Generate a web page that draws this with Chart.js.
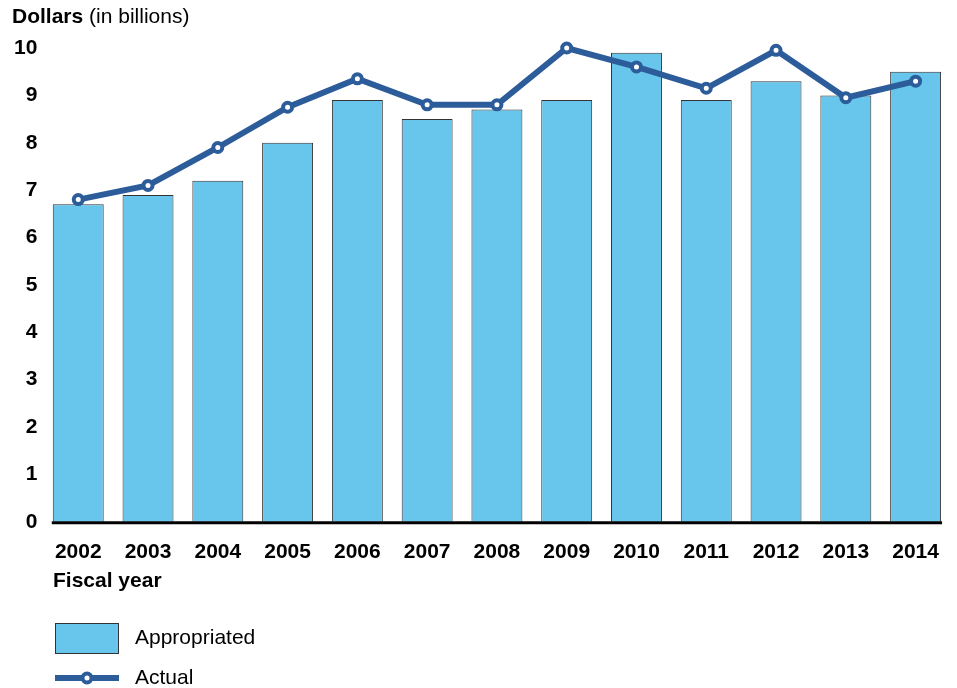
<!DOCTYPE html>
<html>
<head>
<meta charset="utf-8">
<script src="https://cdn.jsdelivr.net/npm/chart.js@4.4.1/dist/chart.umd.min.js"></script>
<style>
  html, body { margin: 0; padding: 0; background: #fff; }
  #wrap { width: 957px; height: 688px; position: relative; }
</style>
</head>
<body>
<div id="wrap"><canvas id="chart"></canvas></div>
<script>
const years = ['2002', '2003', '2004', '2005', '2006', '2007', '2008', '2009', '2010', '2011', '2012', '2013', '2014'];
const appropriated = [6.7, 6.9, 7.2, 8.0, 8.9, 8.5, 8.7, 8.9, 9.9, 8.9, 9.3, 9.0, 9.5];
const actual = [6.8, 7.1, 7.9, 8.75, 9.35, 8.8, 8.8, 10.0, 9.6, 9.15, 9.95, 8.95, 9.3];

const barColor = '#68c5eb';
const lineColor = '#2c5c9a';
const font = 'Liberation Sans, Arial, Helvetica, sans-serif';

// titles, axis line and legend drawn by hand
const extras = {
  id: 'extras',
  afterDraw(chart) {
    const ctx = chart.ctx;
    const area = chart.chartArea;
    const bars = chart.getDatasetMeta(1).data;
    ctx.save();

    // x axis line from first bar to last bar
    const first = bars[0], last = bars[bars.length - 1];
    ctx.strokeStyle = '#000';
    ctx.lineWidth = 3;
    ctx.beginPath();
    ctx.moveTo(first.x - first.width / 2 - 1, area.bottom + 1);
    ctx.lineTo(last.x + last.width / 2 + 1, area.bottom + 1);
    ctx.stroke();

    ctx.fillStyle = '#000';
    ctx.textBaseline = 'middle';
    ctx.textAlign = 'left';
    ctx.font = 'bold 21px ' + font;
    ctx.fillText('Dollars', 12, 17);
    const w = ctx.measureText('Dollars ').width;
    ctx.font = '21px ' + font;
    ctx.fillText('(in billions)', 12 + w, 17);

    ctx.font = 'bold 21px ' + font;
    ctx.fillText('Fiscal year', 53, 581);

    // legend
    ctx.fillStyle = barColor;
    ctx.fillRect(55, 623, 64, 31);
    ctx.strokeStyle = '#333';
    ctx.lineWidth = 1;
    ctx.strokeRect(55.5, 623.5, 63, 30);
    ctx.fillStyle = '#000';
    ctx.font = '21px ' + font;
    ctx.fillText('Appropriated', 135, 638);

    ctx.strokeStyle = lineColor;
    ctx.lineWidth = 6;
    ctx.beginPath();
    ctx.moveTo(55, 678);
    ctx.lineTo(119, 678);
    ctx.stroke();
    ctx.beginPath();
    ctx.arc(87, 678, 4.5, 0, Math.PI * 2);
    ctx.fillStyle = '#fff';
    ctx.fill();
    ctx.lineWidth = 4;
    ctx.stroke();
    ctx.fillStyle = '#000';
    ctx.fillText('Actual', 135, 678);

    ctx.restore();
  }
};

new Chart(document.getElementById('chart'), {
  type: 'bar',
  data: {
    labels: years,
    datasets: [
      {
        type: 'line',
        label: 'Actual',
        data: actual,
        borderColor: lineColor,
        borderWidth: 6,
        pointRadius: 4.5,
        pointBorderWidth: 4,
        pointBackgroundColor: '#fff',
        pointBorderColor: lineColor,
        tension: 0,
        clip: false,
        order: 0
      },
      {
        type: 'bar',
        label: 'Appropriated',
        data: appropriated,
        backgroundColor: barColor,
        borderColor: '#333',
        borderWidth: 1,
        barPercentage: 0.73,
        categoryPercentage: 1,
        order: 1
      }
    ]
  },
  options: {
    responsive: true,
    maintainAspectRatio: false,
    animation: false,
    layout: { autoPadding: false, padding: { top: 48, left: 8, right: 1, bottom: 105 } },
    plugins: {
      legend: { display: false },
      tooltip: { enabled: false }
    },
    scales: {
      x: {
        grid: { display: false, drawTicks: false },
        border: { display: false },
        ticks: { color: '#000', font: { family: font, size: 21, weight: 'bold' }, padding: 18 }
      },
      y: {
        min: 0,
        max: 10,
        grid: { display: false, drawTicks: false },
        border: { display: false },
        ticks: { stepSize: 1, color: '#000', font: { family: font, size: 21, weight: 'bold' }, padding: 6 }
      }
    }
  },
  plugins: [extras]
});
</script>
</body>
</html>
